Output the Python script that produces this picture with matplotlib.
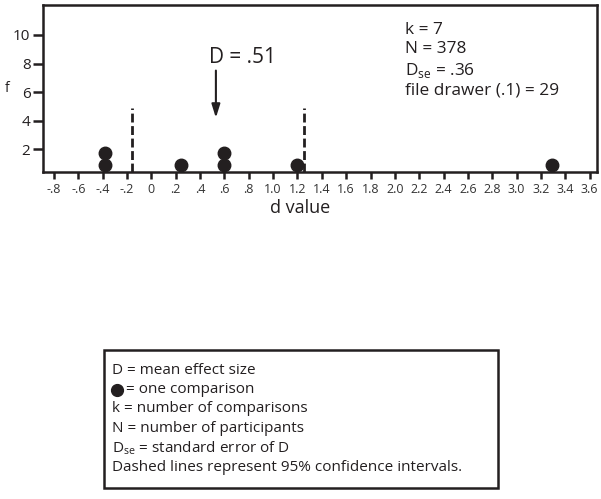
import matplotlib
matplotlib.use("Agg")
import matplotlib.pyplot as plt
from matplotlib.patches import Rectangle
from matplotlib.lines import Line2D

plt.rcParams['font.family'] = ['Open Sans', 'DejaVu Sans']
plt.rcParams['mathtext.fontset'] = 'custom'
plt.rcParams['mathtext.rm'] = 'Open Sans'

# effect sizes of the comparisons
d_values = [-0.38, -0.38, 0.24, 0.6, 0.6, 1.2, 3.29]
mean_d = 0.51
ci_bounds = [-0.16, 1.25]
ci_height = 4.85

x_ticks = [-0.8, -0.6, -0.4, -0.2, 0, 0.2, 0.4, 0.6, 0.8, 1.0, 1.2, 1.4, 1.6, 1.8,
           2.0, 2.2, 2.4, 2.6, 2.8, 3.0, 3.2, 3.4, 3.6]
x_labels = ['-.8', '-.6', '-.4', '-.2', '0', '.2', '.4', '.6', '.8', '1.0', '1.2', '1.4',
            '1.6', '1.8', '2.0', '2.2', '2.4', '2.6', '2.8', '3.0', '3.2', '3.4', '3.6']
y_ticks = [2, 4, 6, 8, 10]

stats_lines = ['k = 7', 'N = 378', r'D$_{\mathregular{se}}$ = .36', 'file drawer (.1) = 29']
key_lines = ['D = mean effect size', '= one comparison', 'k = number of comparisons',
             'N = number of participants', r'D$_{\mathregular{se}}$ = standard error of D',
             'Dashed lines represent 95% confidence intervals.']

ink = '#231f20'

fig = plt.figure(figsize=(6.01, 4.99), dpi=100)
ax = fig.add_axes([43 / 601, 1 - 172 / 499, 554 / 601, 167 / 499])

# stack the dots: each repeat of a value sits one level higher
seen = {}
xs, ys = [], []
for d in d_values:
    n = seen.get(d, 0)
    seen[d] = n + 1
    xs.append(d)
    ys.append(0.9 + 0.83 * n)
ax.plot(xs, ys, 'o', color=ink, markersize=9, clip_on=False, zorder=3)

for b in ci_bounds:
    ax.plot([b, b], [0.4, ci_height], color=ink, lw=2, dashes=(3.2, 1.3), zorder=2)

ax.annotate('', xy=(mean_d + 0.02, 4.0), xytext=(mean_d + 0.02, 7.7),
            arrowprops=dict(arrowstyle='-|>,head_width=0.25,head_length=0.8',
                            color=ink, lw=1.5))
ax.text(mean_d - 0.04, 8.4, 'D = .51', fontsize=15, color=ink, va='center', ha='left')

ax.text(2.08, 10.9, '\n'.join(stats_lines), fontsize=12.4, color=ink, va='top', ha='left',
        linespacing=1.25)

ax.set_xlim(-0.89, 3.66)
ax.set_ylim(0.4, 12.1)
ax.set_xticks(x_ticks)
ax.set_xticklabels(x_labels, fontsize=9, color='#333333')
ax.set_yticks(y_ticks)
ax.set_yticklabels([str(t) for t in y_ticks], fontsize=11, color=ink)
ax.tick_params(axis='x', length=5, width=1.8, color=ink, pad=3)
ax.tick_params(axis='y', length=7, width=1.8, color=ink, pad=2)
for s in ax.spines.values():
    s.set_linewidth(1.8)
    s.set_color(ink)

fig.text(5 / 601, 1 - 88 / 499, 'f', fontsize=10, color=ink, va='center')
fig.text(300 / 601, 1 - 208 / 499, 'd value', fontsize=13, color=ink, va='center',
         ha='center')

# key box
fig.patches.append(Rectangle((104 / 601, 1 - 488 / 499), 394 / 601, 138 / 499,
                             transform=fig.transFigure, fill=False, lw=1.8,
                             edgecolor=ink))
for i, line in enumerate(key_lines):
    x0 = 126 if i == 1 else 112
    fig.text(x0 / 601, 1 - (370 + 19.5 * i) / 499, line, fontsize=11, color=ink,
             va='center', ha='left')
fig.add_artist(Line2D([117 / 601], [1 - 389.5 / 499], marker='o', markersize=8.5,
                      color=ink, transform=fig.transFigure))

fig.savefig('out.png', dpi=100, facecolor='white')
